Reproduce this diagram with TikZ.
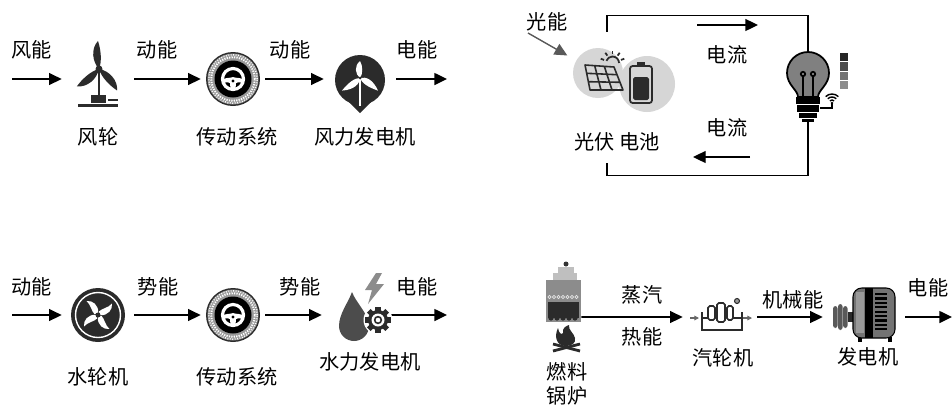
\documentclass[tikz,border=0pt]{standalone}
\usepackage{fontspec}
\setmainfont{Noto Sans CJK SC}
\usetikzlibrary{arrows.meta}
\definecolor{ink}{HTML}{2B2B2B}
\definecolor{mist}{HTML}{D6D6D6}

\tikzset{
  flow/.style={-{Triangle[length=7.2pt,width=6.8pt]}, line width=0.9pt},
  wire/.style={line width=0.75pt},
  slot/.style={inner sep=0, minimum height=1cm},
  txt/.style={inner sep=1pt, font=\fontsize{11.5}{13}\selectfont}
}

\begin{document}
\begin{tikzpicture}[x=0.02cm, y=0.02cm]
%  \draw [help lines, opacity=0.5, step=1cm] (0,0) grid (952,-410);
  \useasboundingbox (0,0) rectangle (952,-410);

  % wind row
  \coordinate (w0) at (12,-79);
  \coordinate (w9) at (447,-79);
  \node [slot, minimum width=1.44cm] (rotor) at (98,-79) {};
  \node [slot, minimum width=1.28cm] (gear1) at (233,-79) {};
  \node [slot, minimum width=1.44cm] (wgen) at (360,-79) {};
  \draw [flow] (w0) -- (rotor);
  \draw [flow] (rotor) -- (gear1);
  \draw [flow] (gear1) -- (wgen);
  \draw [flow] (wgen) -- (w9);

  \node [txt] (wlab0) at (32,-50) {风能};
  \node [txt] (wlab1) at (157,-50) {动能};
  \node [txt] (wlab2) at (290,-50) {动能};
  \node [txt] (wlab3) at (417,-50) {电能};
  \node [txt] (wname1) at (98,-137) {风轮};
  \node [txt] (wname2) at (237,-137) {传动系统};
  \node [txt] (wname3) at (365,-137) {风力发电机};

  \begin{scope}[shift={(99,-69)}]
    \draw [ink, line width=1.4pt] (0,0) -- (0,-30);
    \foreach \a in {88,214,306}
      \fill [ink, rotate=\a] (0,0) .. controls (7,7) and (20,9) .. (28,2) .. controls (20,-1) and (8,-3) .. (0,0);
    \fill [ink] (0,0) circle (3.5);
    \fill [ink] (-8,-26) rectangle (7,-34);
    \fill [ink] (-21,-35) rectangle (19,-38);
    \fill [ink] (9,-30) rectangle (19,-32);
  \end{scope}

  \begin{scope}[shift={(360,-80)}]
    \fill [ink] (0,0) circle (25);
    \fill [ink] (-13,-20) -- (0,-33) -- (13,-20) -- cycle;
    \draw [white, line width=0.9pt] (0,2) -- (0,-26);
    \foreach \a/\l in {90/17,215/22,325/22}
      \fill [white, shift={(0,2)}, rotate=\a] (0,0) .. controls (4,5) and (12,6) .. (\l,0) .. controls (12,-3) and (4,-3) .. (0,0);
    \fill [ink] (0,2) circle (1.5);
  \end{scope}

  % drive wheels of both rows
  \foreach \y in {-79,-315} {
    \begin{scope}[shift={(233,\y)}]
      \fill [ink] (0,0) circle (27);
      \fill [black!40] (0,0) circle (25.5);
      \draw [white, line width=1.1pt, dash pattern=on 0.7pt off 0.7pt] (0,0) circle (21.8);
      \draw [white, line width=0.8pt, dash pattern=on 0.5pt off 0.9pt] (0,0) circle (24.2);
      \fill [black] (0,0) circle (18.5);
      \draw [white, line width=1.8pt] (0,0) circle (10.5);
      \fill [white] (-10,0) .. controls (-4,2) and (4,2) .. (10,0) -- (10,-4) .. controls (5,-3) .. (3,-4) -- (2.5,-10) -- (-2.5,-10) -- (-3,-4) .. controls (-5,-3) .. (-10,-4) -- cycle;
      \fill [white] (0,-2) circle (4);
      \fill [black] (0,-2) circle (1.6);
    \end{scope}
  }

  % hydro row
  \coordinate (h0) at (12,-315);
  \coordinate (h9) at (447,-315);
  \node [slot, minimum width=1.44cm] (runner) at (98,-315) {};
  \node [slot, minimum width=1.28cm] (gear2) at (233,-315) {};
  \node [slot, minimum width=1.32cm] (hgen) at (355,-315) {};
  \draw [flow] (h0) -- (runner);
  \draw [flow] (runner) -- (gear2);
  \draw [flow] (gear2) -- (hgen);
  \draw [flow] (hgen) -- (h9);

  \node [txt] (hlab0) at (32,-287) {动能};
  \node [txt] (hlab1) at (158,-287) {势能};
  \node [txt] (hlab2) at (300,-287) {势能};
  \node [txt] (hlab3) at (417,-287) {电能};
  \node [txt] (hname1) at (98,-377) {水轮机};
  \node [txt] (hname2) at (237,-377) {传动系统};
  \node [txt] (hname3) at (370,-362) {水力发电机};

  \begin{scope}[shift={(98,-315)}]
    \fill [ink] (0,0) circle (27);
    \draw [white, line width=0.8pt] (0,0) circle (22.5);
    \foreach \a in {0,90,180,270}
      \fill [white, rotate=\a+20] (2,-1) .. controls (9,-4) and (16,0) .. (17,6) .. controls (12,3) and (6,5) .. (2,3) -- cycle;
    \fill [ink] (0,0) circle (2.5);
  \end{scope}

  \fill [black!70] (352,-292) .. controls (348,-303) and (339,-314) .. (339,-326) arc (180:360:15) .. controls (369,-314) and (356,-303) .. (352,-292);
  \fill [black!45] (376,-273) -- (365,-290) -- (372,-290) -- (368,-304) -- (384,-284) -- (376,-284) -- (382,-273) -- cycle;
  \begin{scope}[shift={(378,-320)}]
    \fill [white] (0,0) circle (14.5);
    \foreach \a in {0,45,...,315}
      \fill [ink, rotate=\a] (-2.6,8) rectangle (2.6,13);
    \fill [ink] (0,0) circle (10);
    \fill [white] (0,0) circle (6.5);
    \fill [ink] (0,0) circle (4.2);
    \fill [white] (0,0) circle (2.3);
  \end{scope}

  % photovoltaic loop
  \fill [mist] (598,-73) circle (25);
  \fill [mist] (647,-84) circle (28);
  \node [circle, minimum size=1cm, inner sep=0] (panel) at (598,-73) {};
  \node [slot, minimum width=2pt, minimum height=2.62cm] (pvpack) at (607,-97.5) {};
  \node [slot, minimum width=2pt, minimum height=1.38cm] (lamp) at (808,-87.5) {};
  \draw [wire] (pvpack.north) -- ++(0,16) -| (lamp.north);
  \draw [wire] (lamp.south) -- ++(0,-53) -| (pvpack.south);

  \coordinate (sun) at (528,-33);
  \coordinate (i1) at (697,-25);
  \coordinate (i2) at (758,-25);
  \coordinate (i3) at (750,-157);
  \coordinate (i4) at (693,-157);
  \draw [flow, black!65, line width=0.8pt, shorten >=0.2cm] (sun) -- (panel);
  \draw [flow, line width=0.75pt] (i1) -- (i2);
  \draw [flow, line width=0.75pt] (i3) -- (i4);

  \node [txt] (light) at (547,-22) {光能};
  \node [txt] (amp1) at (727,-55) {电流};
  \node [txt] (amp2) at (727,-128) {电流};
  \node [txt] (pvname) at (617,-142) {光伏 电池};

  \draw [ink, line width=0.9pt, line join=round] (585,-65) -- (614,-67) -- (623,-90) -- (590,-90) -- cycle
    (586.7,-73.3) -- (617,-74.7) (588.3,-81.7) -- (620,-82.3)
    (594.7,-65.7) -- (601,-90) (604.3,-66.3) -- (612,-90);
  \draw [ink, line width=1pt] (619,-63) arc (0:160:6.5);
  \foreach \a in {20,55,90,125,160}
    \draw [ink, line width=1pt] (612.5,-63) ++(\a:9) -- ++(\a:3.5);
  \draw [ink, line width=1pt, rounded corners=1.5pt] (630,-66) rectangle (652,-103);
  \fill [ink] (637,-62) rectangle (645,-66);
  \fill [ink, rounded corners=1pt] (633,-77) rectangle (649,-100);

  \begin{scope}[shift={(808,-73)}]
    \filldraw [fill=black!50, draw=black, line width=1pt] (-10,-24) .. controls (-10,-17) and (-21,-12) .. (-21,0) arc (180:0:21) .. controls (21,-12) and (10,-17) .. (10,-24) -- cycle;
    \draw [black, line width=1pt] (-5,-24) -- (-5,-3) (5,-24) -- (5,-3);
    \draw [black, line width=1pt] (-5,-1) circle (2.2) (5,-1) circle (2.2);
    \fill [black] (-12,-24) rectangle (12,-31);
    \fill [black] (-11,-32) rectangle (11,-39);
    \fill [black] (-9,-40) rectangle (9,-45);
    \fill [black] (-6,-46) rectangle (6,-49);
    \foreach \rr in {3,6,9}
      \draw [black, line width=0.8pt] (24,-30) ++(45:\rr) arc (45:135:\rr);
    \fill [black] (24,-30) circle (1.3);
    \draw [black, line width=0.8pt] (24,-30) -- (24,-35) -- (12,-35);
    \foreach \i/\c in {0/85,1/70,2/55,3/45}
      \fill [black!\c] (32,{20-9.3*\i}) rectangle (40,{11.7-9.3*\i});
  \end{scope}

  % thermal row
  \node [slot, minimum width=0.7cm, minimum height=0.84cm] (boiler) at (563.5,-301) {};
  \node [slot, minimum width=1.48cm] (turbine) at (720,-317) {};
  \node [slot, minimum width=1.64cm] (alternator) at (864,-317) {};
  \coordinate (t9) at (952,-317);
  \draw [flow] ([yshift=-0.32cm]boiler.east) -- (turbine);
  \draw [flow] (turbine) -- (alternator);
  \draw [flow] (alternator) -- (t9);

  \node [txt] (steam) at (642,-295) {蒸汽};
  \node [txt] (heat) at (642,-337) {热能};
  \node [txt] (mech) at (793,-300) {机械能};
  \node [txt] (elec) at (928,-288) {电能};
  \node [txt] (tname) at (723,-358) {汽轮机};
  \node [txt] (gname) at (868,-357) {发电机};
  \node [txt, align=center] (fuel) at (567,-384) {燃料\\[1pt]锅炉};

  \fill [black!25] (558,-267) rectangle (574,-273);
  \fill [black!25] (553,-273) rectangle (577,-280);
  \fill [black!80] (566,-264) circle (2.5);
  \fill [black!45] (546,-280) rectangle (581,-322);
  \foreach \x in {549.5,554,...,577}
    \draw [black!10, line width=0.4pt] (\x,-297) circle (1.6);
  \fill [ink] (548,-302) rectangle (579,-318);
  \foreach \x in {551,557,...,577}
    \fill [ink] (\x,-318) circle (2.6);
  \draw [ink, line width=1.6pt] (553,-351) -- (580,-344);
  \draw [ink, line width=1.6pt] (553,-344) -- (580,-351);
  \fill [ink] (566,-346) .. controls (556,-346) and (554,-336) .. (558,-328) .. controls (559,-334) and (562,-335) .. (563,-333) .. controls (562,-328) and (566,-326) .. (569,-325) .. controls (568,-330) and (574,-333) .. (575,-338) .. controls (576,-343) and (572,-346) .. (566,-346);

  \begin{scope}[shift={(720,-317)}]
    \draw [black!60, line width=0.6pt, -{Triangle[length=2.6pt,width=2.6pt]}] (-30,-1) -- (-21,-1);
    \draw [black!60, line width=0.6pt, -{Triangle[length=2.6pt,width=2.6pt]}] (23,-1) -- (32,-1);
    \draw [ink, line width=0.9pt] (-18,5) -- (-18,-13) -- (22,-13) -- (22,5);
    \draw [ink, line width=0.9pt] (-18,-1) -- (-12,-1) (13,-1) -- (22,-1);
    \draw [ink, line width=0.9pt, fill=white, rounded corners=1pt] (-12,-3) rectangle (-5,11);
    \draw [ink, line width=0.9pt, fill=white, rounded corners=1pt] (-3,-5) rectangle (5,14);
    \draw [ink, line width=0.9pt, fill=white, rounded corners=1pt] (7,-3) rectangle (13,11);
    \filldraw [fill=black!40, draw=ink, line width=0.6pt] (17,16) circle (2.5);
  \end{scope}

  \begin{scope}[shift={(864,-317)}]
    \foreach \x/\h in {-31/11,-26/13,-21/11}
      \fill [black!65, rounded corners=1.5pt] (\x,-\h) rectangle ++(4.6,2*\h);
    \fill [ink] (-16.5,-5) rectangle (-10,5);
    \fill [black] (-6,-20) rectangle (-2,-25);
    \fill [black] (24,-20) rectangle (28,-25);
    \filldraw [fill=black!55, draw=black, line width=0.6pt, rounded corners=5pt] (-11,-21) rectangle (31,29);
    \fill [black!40] (-8,-16) rectangle (0,25);
    \fill [black] (1,-21) rectangle (9,29);
    \foreach \i in {0,...,8}
      \fill [black] (11,{24-4.4*\i}) rectangle (23,{21.8-4.4*\i});
  \end{scope}
\end{tikzpicture}
\end{document}
